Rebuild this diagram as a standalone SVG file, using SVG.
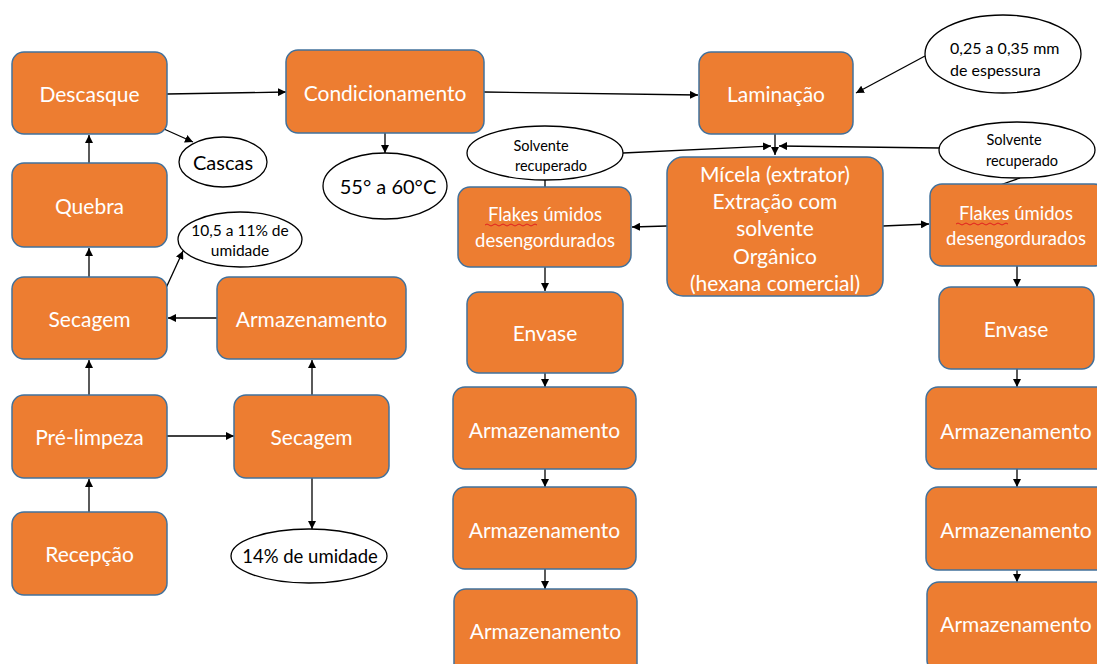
<svg xmlns="http://www.w3.org/2000/svg" width="1097" height="664" viewBox="0 0 1097 664">
  <style>
    .box { fill: #ED7D31; stroke: #41719C; stroke-width: 1.5; }
    .note { fill: #FFFFFF; stroke: #000000; stroke-width: 1.3; }
    .lbl { font-family: Lato, "Liberation Sans", sans-serif; fill: #FFFFFF; text-anchor: middle; dominant-baseline: central; font-size: 21px; }
    .lbl.small { font-size: 18.5px; }
    .nt { font-family: Lato, "Liberation Sans", sans-serif; fill: #000000; text-anchor: middle; dominant-baseline: central; }
    .nt.start { text-anchor: start; }
    .edge { fill: none; stroke: #000000; stroke-width: 1.3; }
    .squiggle { fill: none; stroke: #E02020; stroke-width: 1; }
  </style>
  <defs>
    <marker id="arrow" viewBox="0 0 8 8" refX="8" refY="4" markerWidth="8" markerHeight="8" markerUnits="userSpaceOnUse" orient="auto">
      <path d="M0,0 L8,4 L0,8 z" fill="#000000"/>
    </marker>
  </defs>
  <rect width="1097" height="664" fill="#FFFFFF"/>

  <!-- connectors -->
  <g id="connectors">
    <line class="edge" x1="89" y1="512" x2="89" y2="479" marker-end="url(#arrow)"/>
    <line class="edge" x1="89" y1="395" x2="89" y2="360" marker-end="url(#arrow)"/>
    <line class="edge" x1="89" y1="277" x2="89" y2="248" marker-end="url(#arrow)"/>
    <line class="edge" x1="89" y1="163" x2="89" y2="135" marker-end="url(#arrow)"/>
    <line class="edge" x1="167" y1="436" x2="234" y2="436" marker-end="url(#arrow)"/>
    <line class="edge" x1="312" y1="395" x2="312" y2="360" marker-end="url(#arrow)"/>
    <line class="edge" x1="217" y1="318" x2="168" y2="318" marker-end="url(#arrow)"/>
    <line class="edge" x1="312" y1="478" x2="312" y2="529" marker-end="url(#arrow)"/>
    <line class="edge" x1="166" y1="288" x2="183" y2="251" marker-end="url(#arrow)"/>
    <line class="edge" x1="164" y1="129" x2="193" y2="142" marker-end="url(#arrow)"/>
    <line class="edge" x1="167" y1="94" x2="286" y2="92" marker-end="url(#arrow)"/>
    <line class="edge" x1="484" y1="92" x2="698" y2="95" marker-end="url(#arrow)"/>
    <line class="edge" x1="385" y1="133" x2="385" y2="153" marker-end="url(#arrow)"/>
    <line class="edge" x1="925" y1="56" x2="856" y2="93" marker-end="url(#arrow)"/>
    <line class="edge" x1="775" y1="134" x2="775" y2="155" marker-end="url(#arrow)"/>
    <line class="edge" x1="623" y1="153" x2="771" y2="146" marker-end="url(#arrow)"/>
    <line class="edge" x1="940" y1="148" x2="779" y2="146" marker-end="url(#arrow)"/>
    <line class="edge" x1="545" y1="180" x2="545" y2="187"/>
    <line class="edge" x1="1020" y1="178" x2="1000" y2="185"/>
    <line class="edge" x1="667" y1="226" x2="632" y2="227" marker-end="url(#arrow)"/>
    <line class="edge" x1="883" y1="226" x2="929" y2="224" marker-end="url(#arrow)"/>
    <line class="edge" x1="545" y1="267" x2="545" y2="291" marker-end="url(#arrow)"/>
    <line class="edge" x1="545" y1="373" x2="545" y2="387" marker-end="url(#arrow)"/>
    <line class="edge" x1="545" y1="469" x2="545" y2="487" marker-end="url(#arrow)"/>
    <line class="edge" x1="545" y1="569" x2="545" y2="589" marker-end="url(#arrow)"/>
    <line class="edge" x1="1017" y1="266" x2="1017" y2="287" marker-end="url(#arrow)"/>
    <line class="edge" x1="1017" y1="369" x2="1017" y2="387" marker-end="url(#arrow)"/>
    <line class="edge" x1="1017" y1="469" x2="1017" y2="487" marker-end="url(#arrow)"/>
    <line class="edge" x1="1017" y1="570" x2="1017" y2="582" marker-end="url(#arrow)"/>
  </g>

  <!-- left column -->
  <g id="descasque"><rect class="box" x="12" y="52" width="155" height="82" rx="12"/><text class="lbl" x="89.5" y="93">Descasque</text></g>
  <g id="quebra"><rect class="box" x="12" y="163" width="155" height="84" rx="12"/><text class="lbl" x="89.5" y="205">Quebra</text></g>
  <g id="secagem-1"><rect class="box" x="12" y="277" width="155" height="82" rx="12"/><text class="lbl" x="89.5" y="318">Secagem</text></g>
  <g id="armazenamento-0"><rect class="box" x="217" y="277" width="189" height="82" rx="12"/><text class="lbl" x="311.5" y="318">Armazenamento</text></g>
  <g id="pre-limpeza"><rect class="box" x="12" y="395" width="155" height="83" rx="12"/><text class="lbl" x="89.5" y="436">Pré-limpeza</text></g>
  <g id="secagem-2"><rect class="box" x="234" y="395" width="155" height="83" rx="12"/><text class="lbl" x="311.5" y="436">Secagem</text></g>
  <g id="recepcao"><rect class="box" x="12" y="512" width="155" height="83" rx="12"/><text class="lbl" x="89.5" y="553">Recepção</text></g>

  <!-- notes -->
  <g id="cascas"><ellipse class="note" cx="223" cy="162" rx="44" ry="25"/><text class="nt" x="223" y="162" font-size="20">Cascas</text></g>
  <g id="umidade-105"><ellipse class="note" cx="240" cy="239.5" rx="62" ry="27.5"/><text class="nt" x="240" y="230" font-size="15.5">10,5 a 11% de</text><text class="nt" x="240" y="250" font-size="15.5">umidade</text></g>
  <g id="umidade-14"><ellipse class="note" cx="309" cy="556" rx="78" ry="27"/><text class="nt" x="310" y="556" font-size="18.5">14% de umidade</text></g>
  <g id="temperatura"><ellipse class="note" cx="385" cy="186" rx="62" ry="33"/><text class="nt" x="388" y="186" font-size="20">55° a 60°C</text></g>
  <g id="espessura"><ellipse class="note" cx="1003" cy="54" rx="78" ry="39"/><text class="nt start" x="950" y="47" font-size="16">0,25 a 0,35 mm</text><text class="nt start" x="950" y="69" font-size="16">de espessura</text></g>
  <g id="solvente-esq"><ellipse class="note" cx="545" cy="153" rx="78" ry="27"/><text class="nt" x="541" y="145" font-size="14.5">Solvente</text><text class="nt" x="551" y="165" font-size="14.5">recuperado</text></g>
  <g id="solvente-dir"><ellipse class="note" cx="1017" cy="150" rx="78" ry="28"/><text class="nt" x="1014" y="139" font-size="14.5">Solvente</text><text class="nt" x="1022" y="160" font-size="14.5">recuperado</text></g>

  <!-- main line -->
  <g id="condicionamento"><rect class="box" x="286" y="50" width="198" height="83" rx="12"/><text class="lbl" x="385" y="92">Condicionamento</text></g>
  <g id="laminacao"><rect class="box" x="699" y="52" width="154" height="82" rx="12"/><text class="lbl" x="776" y="93">Laminação</text></g>
  <g id="micela"><rect class="box" x="667" y="157" width="216" height="139" rx="16"/>
    <text class="lbl" x="775" y="173">Mícela (extrator)</text>
    <text class="lbl" x="775" y="200">Extração com</text>
    <text class="lbl" x="775" y="227">solvente</text>
    <text class="lbl" x="775" y="255">Orgânico</text>
    <text class="lbl" x="775" y="282">(hexana comercial)</text>
  </g>

  <!-- left branch -->
  <g id="flakes-esq"><rect class="box" x="458" y="187" width="173" height="80" rx="12"/>
    <text class="lbl small" x="545" y="214">Flakes úmidos</text>
    <text class="lbl small" x="545" y="240">desengordurados</text>
    <path class="squiggle" d="M485,225 q2,-2 4,0 t4,0 t4,0 t4,0 t4,0 t4,0 t4,0 t4,0 t4,0 t4,0 t4,0 t4,0 t4,0"/>
  </g>
  <g id="envase-esq"><rect class="box" x="467" y="292" width="156" height="81" rx="12"/><text class="lbl" x="545" y="332">Envase</text></g>
  <g id="armazenamento-e1"><rect class="box" x="453" y="387" width="183" height="82" rx="12"/><text class="lbl" x="544.5" y="429">Armazenamento</text></g>
  <g id="armazenamento-e2"><rect class="box" x="453" y="487" width="183" height="82" rx="12"/><text class="lbl" x="544.5" y="529">Armazenamento</text></g>
  <g id="armazenamento-e3"><rect class="box" x="454" y="589" width="183" height="92" rx="12"/><text class="lbl" x="545.5" y="630">Armazenamento</text></g>

  <!-- right branch -->
  <g id="flakes-dir"><rect class="box" x="930" y="184" width="176" height="82" rx="12"/>
    <text class="lbl small" x="1016" y="213">Flakes úmidos</text>
    <text class="lbl small" x="1016" y="238">desengordurados</text>
    <path class="squiggle" d="M956,224 q2,-2 4,0 t4,0 t4,0 t4,0 t4,0 t4,0 t4,0 t4,0 t4,0 t4,0 t4,0 t4,0 t4,0"/>
  </g>
  <g id="envase-dir"><rect class="box" x="939" y="287" width="155" height="82" rx="12"/><text class="lbl" x="1016" y="328">Envase</text></g>
  <g id="armazenamento-d1"><rect class="box" x="926" y="387" width="182" height="82" rx="12"/><text class="lbl" x="1016" y="430">Armazenamento</text></g>
  <g id="armazenamento-d2"><rect class="box" x="926" y="487" width="182" height="83" rx="12"/><text class="lbl" x="1016" y="529">Armazenamento</text></g>
  <g id="armazenamento-d3"><rect class="box" x="927" y="582" width="182" height="90" rx="12"/><text class="lbl" x="1016" y="623">Armazenamento</text></g>
</svg>
